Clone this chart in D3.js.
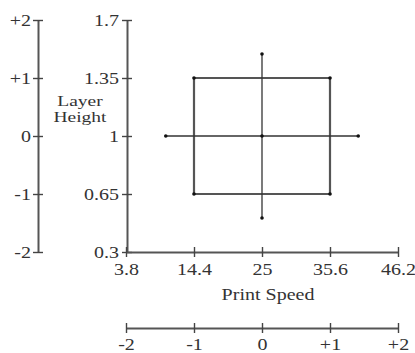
<!DOCTYPE html>
<html>
<head>
<meta charset="utf-8">
<script src="https://cdn.jsdelivr.net/npm/d3@7"></script>
<style>
    body { margin: 0; background: #fff; }
    svg { display: block; }
    text { font-family: "Liberation Serif", "Times New Roman", serif; fill: #333; }
</style>
</head>
<body>
<svg></svg>
<script>
// tick values
const speedTicks = [3.8, 14.4, 25, 35.6, 46.2];
const heightTicks = [0.3, 0.65, 1, 1.35, 1.7];
const codedTicks = [-2, -1, 0, 1, 2];
const codedLabels = ["-2", "-1", "0", "+1", "+2"];

// design points: 4 factorial, 4 axial, 1 center
const speed  = [14.4, 35.6, 35.6, 14.4, 10, 40, 25, 25, 25];
const height = [0.65, 0.65, 1.35, 1.35, 1, 1, 0.505, 1.495, 1];

const width = 415, height_px = 353;
const svg = d3.select("svg")
    .attr("width", width)
    .attr("height", height_px);

const fontSize = 16;
const stretch = 1.25;

const xScale = d3.scaleLinear().domain([3.8, 46.2]).range([126, 398]);
const yScale = d3.scaleLinear().domain([0.3, 1.7]).range([252, 20]);
const xCoded = d3.scaleLinear().domain([-2, 2]).range([126, 398]);
const yCoded = d3.scaleLinear().domain([-2, 2]).range([252, 20]);

// Akselit
function styleAxis(g, vertical, labelOffset) {
    g.attr("font-family", null);
    g.select(".domain").attr("stroke", "#555").attr("stroke-width", 2);
    g.selectAll(".tick line")
        .attr("stroke", "#444")
        .attr("stroke-width", 1.4)
        .attr(vertical ? "x1" : "y1", -5)
        .attr(vertical ? "x2" : "y2", 5);
    const t = g.selectAll(".tick text")
        .attr("font-size", fontSize)
        .attr("fill", "#333")
        .attr("transform", `scale(${stretch},1)`);
    if (vertical) t.attr("x", labelOffset / stretch);
    else t.attr("y", labelOffset);
}

const leftCoded = svg.append("g")
    .attr("transform", "translate(38,0)")
    .call(d3.axisLeft(yCoded).tickValues(codedTicks)
        .tickFormat((d, i) => codedLabels[i]).tickSizeOuter(0));
styleAxis(leftCoded, true, -7);

const leftReal = svg.append("g")
    .attr("transform", "translate(127,0)")
    .call(d3.axisLeft(yScale).tickValues(heightTicks)
        .tickFormat(d => d).tickSizeOuter(0));
styleAxis(leftReal, true, -8);

const bottomReal = svg.append("g")
    .attr("transform", "translate(0,252)")
    .call(d3.axisBottom(xScale).tickValues(speedTicks)
        .tickFormat(d => d).tickSizeOuter(0));
styleAxis(bottomReal, false, 12);

const bottomCoded = svg.append("g")
    .attr("transform", "translate(0,328)")
    .call(d3.axisBottom(xCoded).tickValues(codedTicks)
        .tickFormat((d, i) => codedLabels[i]).tickSizeOuter(0));
styleAxis(bottomCoded, false, 11);

// Akselien otsikot
const yTitle = svg.append("text")
    .attr("text-anchor", "middle")
    .attr("font-size", 15)
    .attr("transform", `translate(80,0) scale(1.3,1)`);
yTitle.append("tspan").attr("x", 0).attr("y", 106).text("Layer");
yTitle.append("tspan").attr("x", 0).attr("y", 122).text("Height");

svg.append("text")
    .attr("text-anchor", "middle")
    .attr("font-size", fontSize)
    .attr("transform", `translate(268,300) scale(${stretch},1)`)
    .text("Print Speed");

// Kaavio: neliö ja akselipisteet
const plot = svg.append("g");
const square = [0, 1, 2, 3].map(i => [xScale(speed[i]), yScale(height[i])]);

plot.append("path")
    .attr("d", d3.line()(square) + "Z")
    .attr("fill", "none")
    .attr("stroke", "#555")
    .attr("stroke-width", 2.2);

[[4, 5], [6, 7]].forEach(([a, b]) => {
    plot.append("line")
        .attr("x1", xScale(speed[a])).attr("y1", yScale(height[a]))
        .attr("x2", xScale(speed[b])).attr("y2", yScale(height[b]))
        .attr("stroke", "#333")
        .attr("stroke-width", 1.3);
});

plot.selectAll("circle")
    .data(speed.map((s, i) => [s, height[i]]))
    .enter()
    .append("circle")
    .attr("cx", d => xScale(d[0]))
    .attr("cy", d => yScale(d[1]))
    .attr("r", 1.8)
    .attr("fill", "#111");
</script>
</body>
</html>
